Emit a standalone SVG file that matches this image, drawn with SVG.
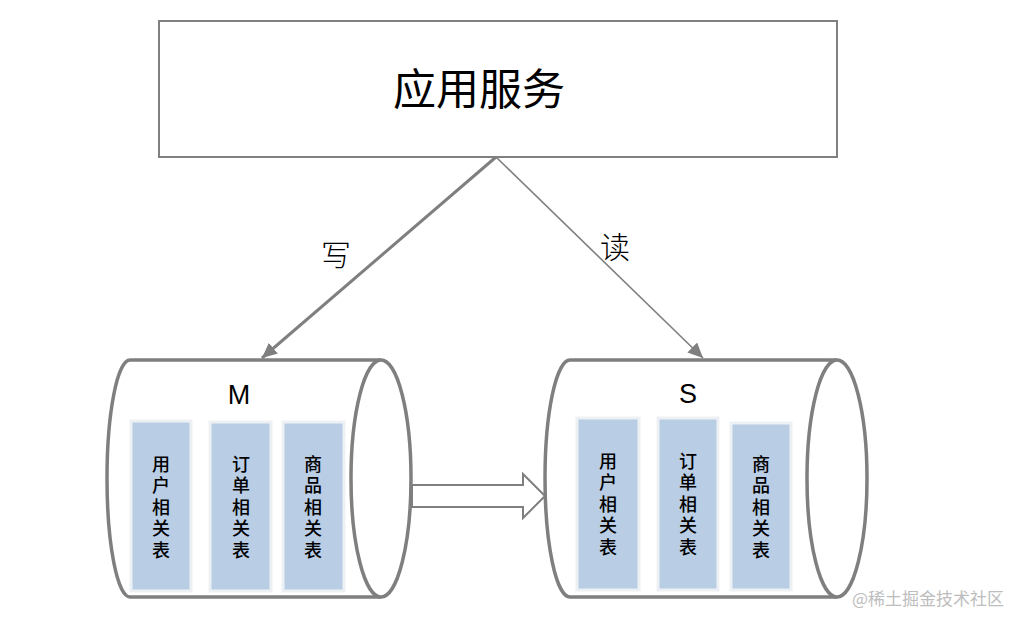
<svg xmlns="http://www.w3.org/2000/svg" width="1032" height="628" viewBox="0 0 1032 628">
  <style>
    .box { fill: #ffffff; stroke: #808080; stroke-width: 2; }
    .cyl { fill: #ffffff; stroke: #7f7f7f; stroke-width: 3.5; }
    .tbl { fill: #b9cde5; stroke: #eef1f4; stroke-width: 3; }
    .cn { font-family: "Noto Sans CJK SC", "Noto Sans", sans-serif; fill: #000000; }
    .tt { font-size: 18px; writing-mode: vertical-rl; letter-spacing: 3.5px; font-weight: 500; }
    .lbl { font-family: "Liberation Sans", "Noto Sans", sans-serif; font-size: 27px; text-anchor: middle; fill: #000; }
    .edge { fill: none; stroke: #7f7f7f; }
    .edgelbl { font-family: "Noto Sans CJK SC", serif; font-size: 30px; font-weight: 300; fill: #000; text-anchor: middle; }
    .wm { font-family: "Noto Sans CJK SC", sans-serif; font-size: 17px; fill: #bdbdbd; }
  </style>
  <defs>
    <marker id="ah" markerUnits="userSpaceOnUse" markerWidth="16" markerHeight="14" refX="15" refY="7" orient="auto">
      <path d="M0,0 L15,7 L0,14 Z" fill="#7f7f7f"/>
    </marker>
  </defs>
  <rect width="1032" height="628" fill="#ffffff"/>

  <g id="app">
    <rect class="box" x="159" y="21" width="678" height="136"/>
    <text class="cn" x="479" y="105" font-size="43" text-anchor="middle">应用服务</text>
  </g>

  <g id="master">
    <path class="cyl" d="M381,360 L130,360 A23,118.5 0 0 0 130,597 L381,597"/>
    <ellipse class="cyl" cx="381" cy="478.5" rx="30" ry="118.5"/>
    <text class="lbl" x="239" y="404">M</text>
    <rect class="tbl" x="131" y="421" width="60" height="170"/>
    <rect class="tbl" x="210" y="422" width="61" height="169"/>
    <rect class="tbl" x="283" y="422" width="61" height="169"/>
    <text class="cn tt" x="161" y="455">用户相关表</text>
    <text class="cn tt" x="241" y="455">订单相关表</text>
    <text class="cn tt" x="313" y="455">商品相关表</text>
  </g>

  <g id="slave">
    <path class="cyl" d="M837,360 L570,360 A25,118.5 0 0 0 570,597 L837,597"/>
    <ellipse class="cyl" cx="837" cy="478.5" rx="30" ry="118.5"/>
    <text class="lbl" x="688" y="403">S</text>
    <rect class="tbl" x="577" y="418" width="62" height="172"/>
    <rect class="tbl" x="658" y="418" width="60" height="172"/>
    <rect class="tbl" x="731" y="423" width="60" height="167"/>
    <text class="cn tt" x="608" y="452">用户相关表</text>
    <text class="cn tt" x="688" y="452">订单相关表</text>
    <text class="cn tt" x="761" y="455">商品相关表</text>
  </g>

  <g id="connectors">
    <line class="edge" x1="496" y1="157" x2="262" y2="358" stroke-width="3" marker-end="url(#ah)"/>
    <line class="edge" x1="496" y1="157" x2="703" y2="358" stroke-width="1.6" marker-end="url(#ah)"/>
    <polygon points="412,485 523,485 523,474 545,496 523,518 523,507 412,507" fill="#ffffff" stroke="#7f7f7f" stroke-width="2"/>
    <text class="edgelbl" x="336" y="266">写</text>
    <text class="edgelbl" x="615" y="258">读</text>
  </g>

  <text class="wm" x="852" y="605">@稀土掘金技术社区</text>
</svg>
